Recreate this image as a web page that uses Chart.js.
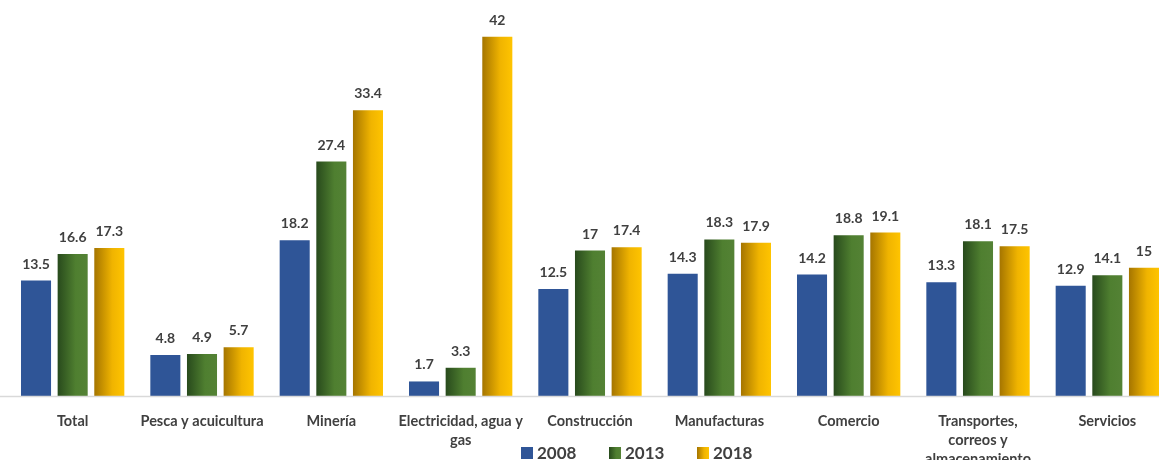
<!DOCTYPE html>
<html>
<head>
<meta charset="utf-8">
<script src="https://cdn.jsdelivr.net/npm/chart.js@4/dist/chart.umd.min.js"></script>
<style>
  html, body { margin: 0; padding: 0; background: #fff; overflow: hidden; }
  #wrap { position: relative; width: 1172px; height: 460px; }
</style>
</head>
<body>
<div id="wrap"><canvas id="myChart"></canvas></div>
<script>
const categories = [
  'Total', 'Pesca y acuicultura', 'Minería', ['Electricidad, agua y', 'gas'],
  'Construcción', 'Manufacturas', 'Comercio',
  ['Transportes,', 'correos y', 'almacenamiento'], 'Servicios'
];
const years = ['2008', '2013', '2018'];
const values2008 = [13.5, 4.8, 18.2, 1.7, 12.5, 14.3, 14.2, 13.3, 12.9];
const values2013 = [16.6, 4.9, 27.4, 3.3, 17, 18.3, 18.8, 18.1, 14.1];
const values2018 = [17.3, 5.7, 33.4, 42, 17.4, 17.9, 19.1, 17.5, 15];

const catPct = 0.85;
const barPct = 0.82;

// horizontal gradient stops for one bar, dark -> light
const fills = [
  null,
  ['#284a1c', '#4f7f30', '#548235'],
  ['#a57500', '#f0b400', '#ffc400']
];
const solidBlue = '#2f5597';

function barFill(ctx) {
  const chart = ctx.chart;
  const ds = ctx.datasetIndex;
  if (ds === 0) return solidBlue;
  const xs = chart.scales.x;
  if (!xs || ctx.dataIndex === undefined || !isFinite(xs.width) || !xs.width) return fills[ds][1];
  const cat = xs.width / categories.length;
  const slot = cat * catPct / 3;
  const w = slot * barPct;
  const cx = xs.getPixelForValue(ctx.dataIndex) + (ds - 1) * slot;
  if (!isFinite(cx)) return fills[ds][1];
  const g = chart.ctx.createLinearGradient(cx - w / 2, 0, cx + w / 2, 0);
  g.addColorStop(0, fills[ds][0]);
  g.addColorStop(0.6, fills[ds][1]);
  g.addColorStop(1, fills[ds][2]);
  return g;
}

const labelFont = '"Lato", "Open Sans", sans-serif';

const extras = {
  id: 'extras',
  afterDatasetsDraw(chart) {
    const c = chart.ctx;
    const area = chart.chartArea;
    // baseline
    c.save();
    c.strokeStyle = '#d9d9d9';
    c.lineWidth = 1.5;
    c.beginPath();
    c.moveTo(0, area.bottom + 0.5);
    c.lineTo(chart.width, area.bottom + 0.5);
    c.stroke();

    // value labels
    c.fillStyle = '#404040';
    c.font = 'bold 14px ' + labelFont;
    c.textAlign = 'center';
    c.textBaseline = 'alphabetic';
    chart.data.datasets.forEach((d, i) => {
      chart.getDatasetMeta(i).data.forEach((bar, j) => {
        c.fillText(String(d.data[j]), bar.x, bar.y - 12);
      });
    });

    // legend
    const startX = 521, step = 88, boxY = 447, box = 12;
    c.font = 'bold 17px ' + labelFont;
    c.textAlign = 'left';
    c.textBaseline = 'middle';
    years.forEach((y, i) => {
      const x = startX + i * step;
      if (i === 0) {
        c.fillStyle = solidBlue;
      } else {
        const g = c.createLinearGradient(x, 0, x + box, 0);
        g.addColorStop(0, fills[i][0]);
        g.addColorStop(0.6, fills[i][1]);
        g.addColorStop(1, fills[i][2]);
        c.fillStyle = g;
      }
      c.fillRect(x, boxY, box, box);
      c.fillStyle = '#404040';
      c.fillText(y, x + box + 4, boxY + box / 2 + 1);
    });
    c.restore();
  }
};

const ctx = document.getElementById('myChart').getContext('2d');

const myChart = new Chart(ctx, {
  type: 'bar',
  data: {
    labels: categories,
    datasets: years.map((y, i) => ({
      label: y,
      data: [values2008, values2013, values2018][i],
      backgroundColor: barFill,
      borderWidth: 0,
      categoryPercentage: catPct,
      barPercentage: barPct
    }))
  },
  options: {
    responsive: true,
    maintainAspectRatio: false,
    animation: false,
    layout: { padding: { top: 11, left: 8, right: 0, bottom: 0 } },
    plugins: {
      colors: { enabled: false },
      legend: { display: false },
      tooltip: { enabled: false }
    },
    scales: {
      x: {
        grid: { display: false },
        border: { display: false },
        ticks: {
          color: '#404040',
          padding: 8,
          maxRotation: 0,
          autoSkip: false,
          font: { family: labelFont, size: 14.5, weight: 'bold', lineHeight: 1.3 }
        },
        afterFit(scale) { scale.height = 64; }
      },
      y: {
        display: false,
        min: 0,
        max: 45
      }
    }
  },
  plugins: [extras]
});
myChart.update();
</script>
</body>
</html>
